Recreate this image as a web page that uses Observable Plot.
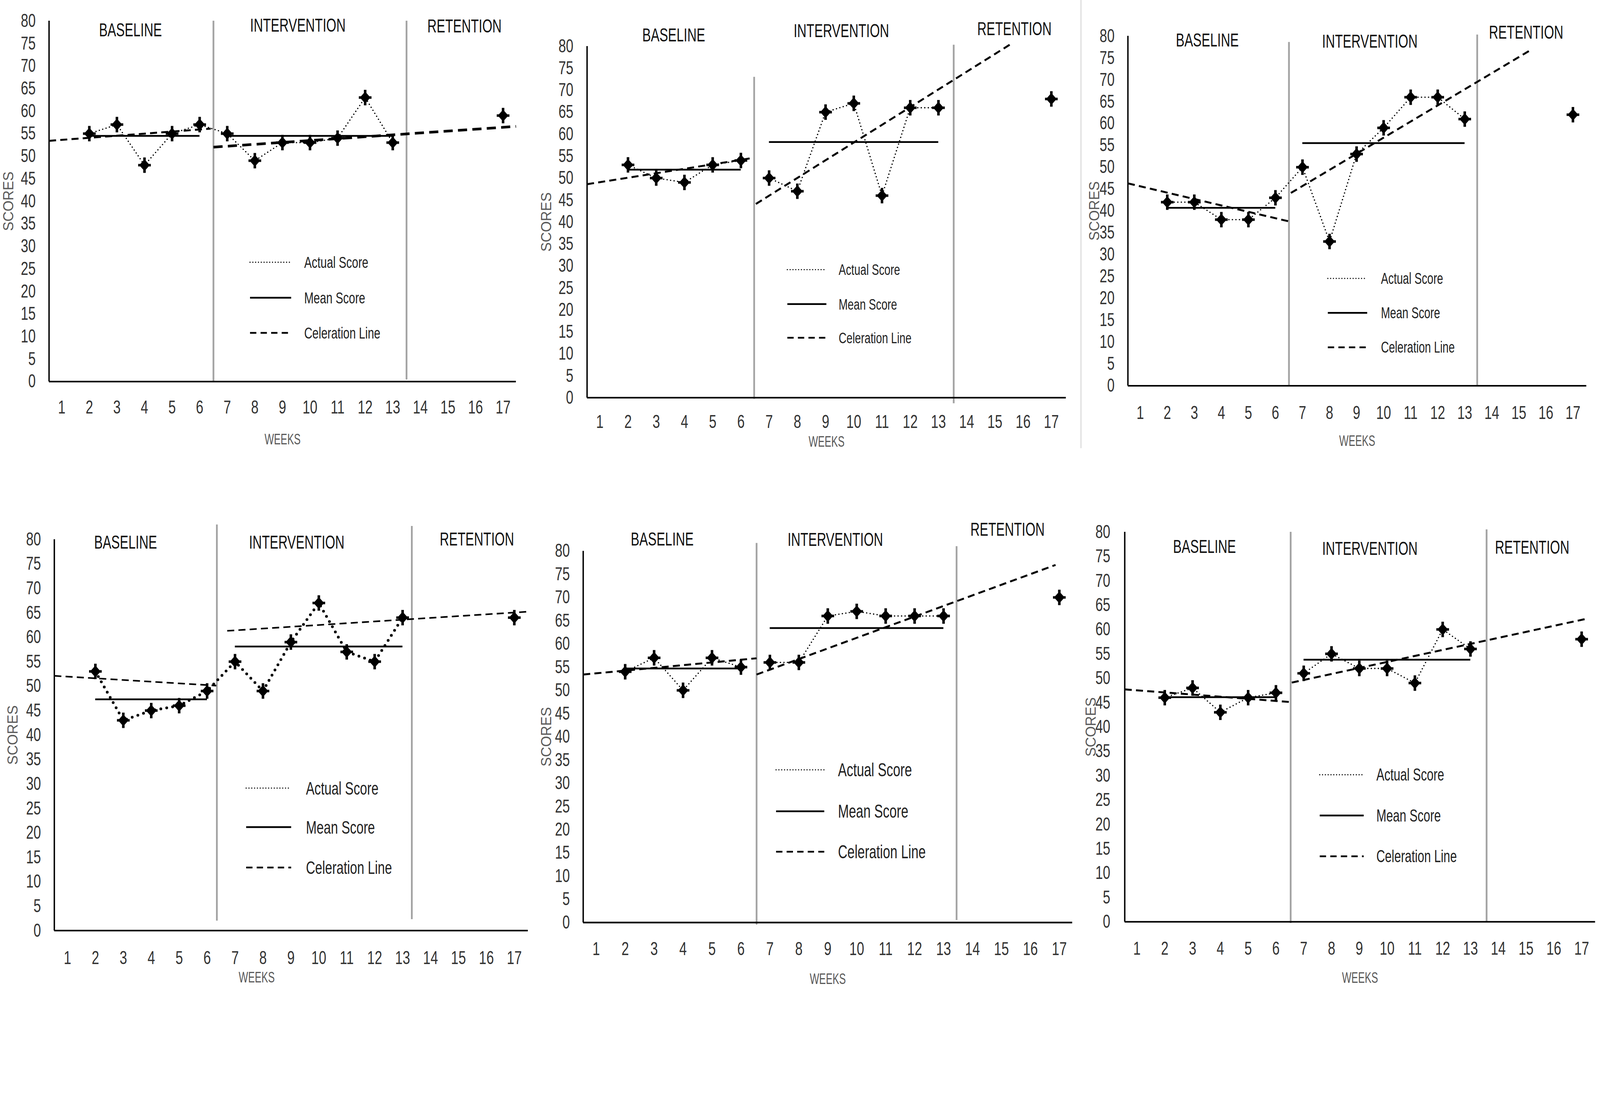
<!DOCTYPE html>
<html><head><meta charset="utf-8">
<script src="https://cdn.jsdelivr.net/npm/d3@7"></script>
<script src="https://cdn.jsdelivr.net/npm/@observablehq/plot@0.6"></script>
<style>
html,body{margin:0;padding:0;background:#fff;overflow:hidden;}
#wrap{position:relative;overflow:hidden;background:#fff;}
#page{position:absolute;left:0;top:0;width:4550px;height:2812px;overflow:hidden;background:#fff;transform-origin:0 0;}
.panel{position:absolute;}
.sep{position:absolute;left:3072px;top:0;width:4px;height:1275px;background:#e2e2e2;}
#legends{position:absolute;left:0;top:0;}
</style></head><body><div id="wrap"><div id="page"><div class="sep"></div></div></div>
<script>
// ---------------- data ----------------
const weeks = [1, 2, 3, 4, 5, 6, 7, 8, 9, 10, 11, 12, 13, 14, 15, 16, 17];
const yTicks = [0, 5, 10, 15, 20, 25, 30, 35, 40, 45, 50, 55, 60, 65, 70, 75, 80];
const phaseNames = ["BASELINE", "INTERVENTION", "RETENTION"];
const baselineWeeks = [2, 3, 4, 5, 6];
const interventionWeeks = [7, 8, 9, 10, 11, 12, 13];
const retentionWeeks = [17];
const legendLabels = ["Actual Score", "Mean Score", "Celeration Line"];

const p1Baseline = [55, 57, 48, 55, 57];
const p1Intervention = [55, 49, 53, 53, 54, 63, 53];
const p1Retention = [59];
const p1Means = [54.5, 54.5];
const p1Celeration = [[0.54, 53.4, 6.4, 56.1], [6.5, 52.0, 17.47, 56.6]];

const p2Baseline = [53, 50, 49, 53, 54];
const p2Intervention = [50, 47, 65, 67, 46, 66, 66];
const p2Retention = [68];
const p2Means = [51.9, 58.2];
const p2Celeration = [[0.55, 48.6, 6.45, 54.6], [6.53, 44.1, 15.64, 80.8]];

const p3Baseline = [42, 42, 38, 38, 43];
const p3Intervention = [50, 33, 53, 59, 66, 66, 61];
const p3Retention = [62];
const p3Means = [40.7, 55.5];
const p3Celeration = [[0.545, 46.3, 6.5, 37.6], [6.57, 44.1, 15.38, 76.6]];

const p4Baseline = [53, 43, 45, 46, 49];
const p4Intervention = [55, 49, 59, 67, 57, 55, 64];
const p4Retention = [64];
const p4Means = [47.3, 58.1];
const p4Celeration = [[0.53, 52.1, 6.33, 50.1], [6.72, 61.3, 17.44, 65.2]];

const p5Baseline = [54, 57, 50, 57, 55];
const p5Intervention = [56, 56, 66, 67, 66, 66, 66];
const p5Retention = [70];
const p5Means = [54.7, 63.4];
const p5Celeration = [[0.55, 53.4, 6.54, 56.9], [6.54, 53.4, 16.87, 77.0]];

const p6Baseline = [46, 48, 43, 46, 47];
const p6Intervention = [51, 55, 52, 52, 49, 60, 56];
const p6Retention = [58];
const p6Means = [46.1, 53.8];
const p6Celeration = [[0.56, 47.7, 6.53, 45.1], [6.57, 49.1, 17.18, 62.2]];

// ---------------- layout / styling ----------------
const FONT = "'Liberation Sans Narrow','Liberation Sans',Arial,sans-serif";

const panels = [
  {data: [p1Baseline, p1Intervention, p1Retention, p1Means, p1Celeration],
   L: {left: 0, top: 0, w: 1520, h: 1300, axisX: 139, rightX: 1467, y80: 59, y0: 1085, xDomain: [0.54, 17.47],
       padX: 53, padY: 38, phases: [[6.5, 0, 80], [13.5, 0.4, 80]], labelX: [3.49, 9.56, 15.6], labelDy: [27, 13, 16],
       weeksDy: 165, weeksDx: 0, scoresDx: -115, connect: true, dot: [4, "0,10"],
       cel: [[5.5, "20,12"], [7.5, "26,15"]],
       legend: {x1: 711, x2: 828, tx: 865, rows: [746, 847, 947], fs: 46}}},
  {data: [p2Baseline, p2Intervention, p2Retention, p2Means, p2Celeration],
   L: {left: 1520, top: 0, w: 1520, h: 1300, axisX: 1669, rightX: 3031, y80: 131, y0: 1131, xDomain: [0.55, 17.52],
       padX: 48, padY: 39, phases: [[6.47, -0.3, 73], [13.54, -1.3, 80.3]], labelX: [3.62, 9.56, 15.69], labelDy: [-31, -43, -49],
       weeksDy: 125, weeksDx: 0, scoresDx: -115, connect: false, dot: [4, "0,10"],
       cel: [[5.5, "20,12"], [5.5, "20,12"]],
       legend: {x1: 2239, x2: 2350, tx: 2385, rows: [767, 865, 961], fs: 44}}},
  {data: [p3Baseline, p3Intervention, p3Retention, p3Means, p3Celeration],
   L: {left: 3030, top: 0, w: 1520, h: 1300, axisX: 3207, rightX: 4511, y80: 102, y0: 1097, xDomain: [0.545, 17.5],
       padX: 57, padY: 38, phases: [[6.5, 0, 78.6], [13.46, 0, 80.3]], labelX: [3.48, 9.49, 15.27], labelDy: [13, 16, -10],
       weeksDy: 157, weeksDx: 0, scoresDx: -94, connect: true, dot: [4, "0,10"],
       cel: [[5.5, "20,12"], [5.5, "20,12"]],
       legend: {x1: 3776, x2: 3888, tx: 3927, rows: [792, 890, 988], fs: 44.6}}},
  {data: [p4Baseline, p4Intervention, p4Retention, p4Means, p4Celeration],
   L: {left: 0, top: 1400, w: 1520, h: 1412, axisX: 154, rightX: 1501, y80: 1534, y0: 2647, xDomain: [0.53, 17.49],
       padX: 58, padY: 38, phases: [[6.35, 2, 83], [13.33, 2.3, 82.7]], labelX: [3.08, 9.21, 15.66], labelDy: [9, 9, 0],
       weeksDy: 134, weeksDx: -98, scoresDx: -117, connect: true, dot: [8, "0,17"],
       cel: [[4.5, "20,12"], [4.5, "20,12"]],
       legend: {x1: 700, x2: 828, tx: 870, rows: [2242, 2353, 2468], fs: 52}}},
  {data: [p5Baseline, p5Intervention, p5Retention, p5Means, p5Celeration],
   L: {left: 1520, top: 1400, w: 1535, h: 1412, axisX: 1658, rightX: 3049, y80: 1567, y0: 2624, xDomain: [0.55, 17.45],
       padX: 55, padY: 38, phases: [[6.54, -0.5, 81.7], [13.45, 0.5, 81]], labelX: [3.28, 9.26, 15.21], labelDy: [-33, -31, -60],
       weeksDy: 161, weeksDx: 0, scoresDx: -104, connect: false, dot: [4, "0,10"],
       cel: [[5.5, "20,12"], [5.5, "20,12"]],
       legend: {x1: 2207, x2: 2344, tx: 2383, rows: [2190, 2308, 2423], fs: 53}}},
  {data: [p6Baseline, p6Intervention, p6Retention, p6Means, p6Celeration],
   L: {left: 3030, top: 1400, w: 1520, h: 1412, axisX: 3198, rightX: 4536, y80: 1513, y0: 2622, xDomain: [0.56, 17.49],
       padX: 56, padY: 41, phases: [[6.53, -0.3, 80], [13.58, 0, 80.5]], labelX: [3.43, 9.38, 15.22], labelDy: [43, 48, 45],
       weeksDy: 160, weeksDx: 0, scoresDx: -95, connect: false, dot: [4, "0,10"],
       cel: [[5.5, "20,12"], [5.5, "20,12"]],
       legend: {x1: 3753, x2: 3878, tx: 3914, rows: [2204, 2320, 2436], fs: 48.6}}}
];

// diamond marker with four short spikes (Excel-like)
const marker = {
  draw(context, size) {
    const k = Math.sqrt(size / Math.PI) / 12;
    const t = 3.6 * k;
    context.moveTo(0, -17 * k); context.lineTo(15 * k, 0); context.lineTo(0, 17 * k); context.lineTo(-15 * k, 0); context.closePath();
    context.moveTo(-t, -22 * k); context.lineTo(t, -22 * k); context.lineTo(t, 22 * k); context.lineTo(-t, 22 * k); context.closePath();
    context.moveTo(-18 * k, -t); context.lineTo(18 * k, -t); context.lineTo(18 * k, t); context.lineTo(-18 * k, t); context.closePath();
  }
};

// fit the 4550x2812 drawing into the actual viewport
const wrap = document.getElementById("wrap");
const page = document.getElementById("page");
const s = (window.innerWidth || 4550) / 4550;
page.style.transform = `scale(${s})`;
wrap.style.width = (4550 * s) + "px";
wrap.style.height = (2812 * s) + "px";

// horizontal condensing of text (the reference uses a narrow face)
function condense(el, k) {
  const len = el.getComputedTextLength();
  if (len > 0) {
    el.setAttribute("textLength", (len * k).toFixed(1));
    el.setAttribute("lengthAdjust", "spacingAndGlyphs");
  }
}

panels.forEach(({data, L}) => {
  const [base, inter, ret, means, cel] = data;
  const rows = [
    ...baselineWeeks.map((w, i) => ({week: w, score: base[i], phase: phaseNames[0]})),
    ...interventionWeeks.map((w, i) => ({week: w, score: inter[i], phase: phaseNames[1]}))
  ];
  const points = [...rows, ...retentionWeeks.map((w, i) => ({week: w, score: ret[i], phase: phaseNames[2]}))];
  const meanRows = [
    {x1: baselineWeeks[0], x2: baselineWeeks[baselineWeeks.length - 1], y: means[0]},
    {x1: interventionWeeks[0], x2: interventionWeeks[interventionWeeks.length - 1], y: means[1]}
  ];
  const celRows = cel.map(([x1, y1, x2, y2]) => ({x1, y1, x2, y2}));
  const phaseRules = L.phases.map(([x, y1, y2]) => ({x, y1, y2}));

  const svg = Plot.plot({
    width: L.w,
    height: L.h,
    marginLeft: L.axisX - L.left,
    marginRight: L.left + L.w - L.rightX,
    marginTop: L.y80 - L.top,
    marginBottom: L.top + L.h - L.y0,
    x: {type: "linear", domain: L.xDomain, ticks: weeks, tickSize: 0, tickPadding: L.padX, tickFormat: d => String(d), label: null},
    y: {type: "linear", domain: [0, 80], ticks: yTicks, tickSize: 0, tickPadding: L.padY, tickFormat: d => String(d), label: null},
    style: {background: "transparent", overflow: "visible", maxWidth: "none", fontFamily: FONT, fontSize: "53px", color: "#333"},
    marks: [
      Plot.ruleX(phaseRules, {x: "x", y1: "y1", y2: "y2", stroke: "#a3a3a3", strokeWidth: 5}),
      Plot.ruleY([0], {stroke: "#000", strokeWidth: 4.5}),
      Plot.ruleX([L.xDomain[0]], {y1: 0, y2: 80, stroke: "#000", strokeWidth: 4}),
      Plot.ruleY(meanRows, {x1: "x1", x2: "x2", y: "y", stroke: "#000", strokeWidth: 5}),
      Plot.link(celRows.slice(0, 1), {x1: "x1", y1: "y1", x2: "x2", y2: "y2", stroke: "#000", strokeWidth: L.cel[0][0], strokeDasharray: L.cel[0][1]}),
      Plot.link(celRows.slice(1, 2), {x1: "x1", y1: "y1", x2: "x2", y2: "y2", stroke: "#000", strokeWidth: L.cel[1][0], strokeDasharray: L.cel[1][1]}),
      Plot.line(rows, {x: "week", y: "score", z: L.connect ? null : "phase", stroke: "#000", strokeWidth: L.dot[0], strokeDasharray: L.dot[1], strokeLinecap: "round"}),
      Plot.dot(points, {x: "week", y: "score", symbol: marker, r: 12, fill: "#000", stroke: "none"}),
      ...phaseNames.map((name, i) => Plot.text([{x: L.labelX[i], text: name}], {
        x: "x", text: "text", frameAnchor: "top", lineAnchor: "middle", textAnchor: "middle", dy: L.labelDy[i],
        fontSize: 53, fontFamily: FONT, fill: "#111"})),
      Plot.text([{text: "WEEKS"}], {text: "text", frameAnchor: "bottom", lineAnchor: "middle", textAnchor: "middle",
        dy: L.weeksDy, dx: L.weeksDx, fontSize: 43, fontFamily: FONT, fill: "#595959"}),
      Plot.text([{text: "SCORES"}], {text: "text", frameAnchor: "left", lineAnchor: "middle", textAnchor: "middle",
        dx: L.scoresDx, rotate: -90, fontSize: 40, fontFamily: FONT, fill: "#595959"})
    ]
  });
  const holder = document.createElement("div");
  holder.className = "panel";
  holder.style.left = L.left + "px";
  holder.style.top = L.top + "px";
  holder.appendChild(svg);
  page.appendChild(holder);

  svg.querySelectorAll("text").forEach(t => {
    const txt = (t.textContent || "").trim();
    if (/^\d+$/.test(txt)) condense(t, 0.72);
    else if (phaseNames.includes(txt)) condense(t, 0.69);
    else if (txt === "WEEKS") condense(t, 0.66);
  });
});

// legends (inside each panel)
const leg = d3.select(page).append("svg").attr("id", "legends").attr("width", 4550).attr("height", 2812);
const swatch = [
  {w: 3.5, dash: "0,8", cap: "round"},
  {w: 5, dash: null, cap: "butt"},
  {w: 5, dash: "18,12", cap: "butt"}
];
panels.forEach(({L}) => {
  const g = L.legend;
  legendLabels.forEach((lab, i) => {
    leg.append("line").attr("x1", g.x1).attr("x2", g.x2).attr("y1", g.rows[i]).attr("y2", g.rows[i])
      .attr("stroke", "#000").attr("stroke-width", swatch[i].w)
      .attr("stroke-dasharray", swatch[i].dash).attr("stroke-linecap", swatch[i].cap);
    const t = leg.append("text").attr("x", g.tx).attr("y", g.rows[i]).attr("dy", "0.35em")
      .attr("font-family", FONT).attr("font-size", g.fs).attr("fill", "#222").text(lab);
    condense(t.node(), 0.7);
  });
});
</script>
</body></html>
